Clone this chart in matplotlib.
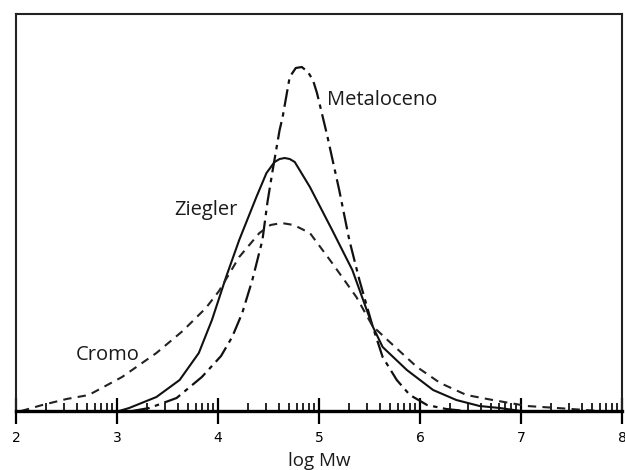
import numpy as np
import matplotlib
matplotlib.use('Agg')
import matplotlib.pyplot as plt

# curves (log Mw, relative height)
metal_x = [3.15, 3.32, 3.59, 3.84, 4.03, 4.14, 4.24, 4.34, 4.44, 4.49, 4.54, 4.61, 4.64, 4.71, 4.77,
           4.83, 4.89, 4.94, 4.98, 5.08, 5.20, 5.30, 5.40, 5.53, 5.63, 5.77, 5.90, 6.07, 6.26, 6.45]
metal_y = [0, 3, 13, 34, 55, 74, 98, 131, 171, 209, 240, 281, 294, 334, 343,
           344, 339, 331, 318, 276, 221, 171, 131, 85, 54, 31, 16, 6, 2, 0]

zieg_x = [3.02, 3.12, 3.39, 3.62, 3.81, 3.94, 4.08, 4.21, 4.38, 4.48, 4.56, 4.61, 4.66, 4.71, 4.76,
          4.91, 5.13, 5.33, 5.53, 5.63, 5.87, 6.13, 6.36, 6.59, 6.79, 7.00]
zieg_y = [0, 3, 14, 31, 58, 91, 134, 171, 214, 238, 249, 252, 253, 252, 249,
          224, 181, 141, 85, 64, 41, 21, 11, 5, 3, 0]

cromo_x = [2.05, 2.26, 2.50, 2.72, 3.05, 3.39, 3.65, 3.88, 4.01, 4.21, 4.41, 4.52, 4.63, 4.75,
           4.91, 5.13, 5.37, 5.53, 5.70, 5.97, 6.20, 6.46, 6.72, 7.06, 7.36, 7.78]
cromo_y = [0, 6, 12, 16, 34, 58, 80, 103, 120, 154, 178, 186, 188, 186,
           178, 148, 114, 85, 69, 44, 28, 16, 11, 5, 3, 0]

x_ticks = [2, 3, 4, 5, 6, 7, 8]
labels = ['Metaloceno', 'Ziegler', 'Cromo']

fig = plt.figure(figsize=(6.25, 4.7), dpi=100)
ax = fig.add_axes([0.0256, 0.1255, 0.9696, 0.8447])

ax.plot(metal_x, metal_y, color='#111111', lw=1.6, dashes=(8, 2.5, 2, 2.5))
ax.plot(zieg_x, zieg_y, color='#111111', lw=1.5)
ax.plot(cromo_x, cromo_y, color='#222222', lw=1.5, dashes=(4, 3))

ax.set_xlim(2, 8)
ax.set_ylim(0, 397)
ax.set_yticks([])
ax.set_xticks(x_ticks)
ax.set_xticklabels([str(t) for t in x_ticks])

# minor ticks in a log pattern inside each decade
minor = [d + np.log10(k) for d in range(2, 8) for k in range(2, 10)]
ax.set_xticks(minor, minor=True)
ax.tick_params(axis='x', which='major', direction='inout', length=19, width=1.6,
               labelsize=10, pad=5, colors='black')
ax.tick_params(axis='x', which='minor', direction='in', length=6, width=1.2)

for s in ['left', 'right', 'top']:
    ax.spines[s].set_linewidth(1.5)
    ax.spines[s].set_color('#222222')
ax.spines['bottom'].set_linewidth(2.4)

txt = dict(family='Open Sans', fontsize=14.5, color='#1a1a1a')
ax.text(5.08, 311, labels[0], ha='left', va='center', **txt)
ax.text(3.88, 201, labels[1], ha='center', va='center', **txt)
ax.text(2.91, 56, labels[2], ha='center', va='center', **txt)

ax.set_xlabel('log Mw', family='Open Sans', fontsize=13.5, color='#1a1a1a', labelpad=5)

fig.savefig('out.png', dpi=100)
